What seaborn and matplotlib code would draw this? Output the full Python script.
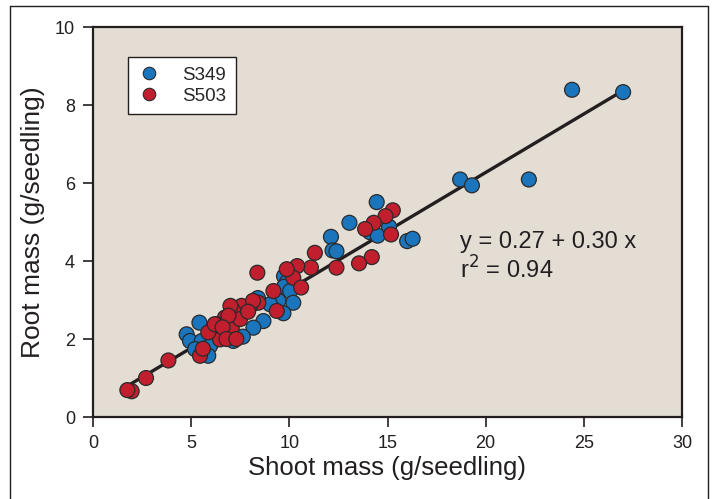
import numpy as np
import pandas as pd
import matplotlib
matplotlib.use("Agg")
import matplotlib.pyplot as plt
import seaborn as sns
from matplotlib.lines import Line2D

# ---- data ----
s349_shoot = [27.0, 24.4, 22.2, 18.7, 19.3, 14.45, 13.06, 14.1, 14.5, 15.08, 16.0, 16.28,
              12.12, 12.2, 12.4, 9.73, 9.87, 9.73, 10.04, 10.2, 9.44, 9.02, 9.7, 8.68,
              8.17, 7.63, 7.15, 6.05, 5.42, 4.77, 4.94, 5.54, 5.2, 5.96, 5.87, 8.4]
s349_root = [8.33, 8.39, 6.09, 6.09, 5.94, 5.51, 4.98, 4.74, 4.65, 4.88, 4.51, 4.57,
             4.62, 4.27, 4.25, 3.61, 3.45, 3.34, 3.23, 2.93, 2.98, 2.89, 2.66, 2.46,
             2.29, 2.06, 1.95, 1.91, 2.42, 2.12, 1.95, 1.95, 1.74, 1.82, 1.57, 3.05]

s503_shoot = [15.27, 14.9, 14.3, 13.86, 15.18, 11.3, 14.2, 13.55, 12.4, 11.1, 10.4, 10.2,
              10.6, 9.87, 8.37, 9.19, 9.36, 8.42, 8.0, 7.57, 7.15, 6.72, 6.3, 7.07,
              7.49, 6.47, 5.87, 6.2, 5.45, 3.84, 2.7, 1.97, 1.75, 8.15, 7.0, 6.9,
              6.6, 7.9, 6.8, 7.3, 5.6]
s503_root = [5.30, 5.15, 4.98, 4.82, 4.68, 4.21, 4.10, 3.94, 3.83, 3.83, 3.87, 3.57,
             3.32, 3.79, 3.70, 3.23, 2.72, 2.93, 2.85, 2.85, 2.72, 2.55, 2.38, 2.29,
             2.51, 1.99, 2.17, 2.38, 1.57, 1.45, 1.00, 0.66, 0.69, 2.98, 2.85, 2.60,
             2.30, 2.70, 2.00, 2.00, 1.75]

genotypes = ["S349", "S503"]
intercept, slope = 0.27, 0.30
fit_range = [1.7, 26.9]
equation = "y = 0.27 + 0.30 x"
r2_text = "r$^2$ = 0.94"

df = pd.DataFrame({
    "shoot": s349_shoot + s503_shoot,
    "root": s349_root + s503_root,
    "genotype": [genotypes[0]] * len(s349_shoot) + [genotypes[1]] * len(s503_shoot),
})

sns.set_style("ticks")
plt.rcParams["font.family"] = ["Liberation Sans", "DejaVu Sans"]

fig = plt.figure(figsize=(7.12, 4.99), dpi=100)
ax = fig.add_axes([93 / 712, 1 - 417 / 499, (682 - 93) / 712, (417 - 27) / 499])
ax.set_facecolor("#E3DDD4")

palette = {"S349": "#1A75BD", "S503": "#C11F2E"}

fit_df = pd.DataFrame({"shoot": fit_range,
                       "root": [intercept + slope * v for v in fit_range]})
sns.lineplot(data=fit_df, x="shoot", y="root", ax=ax, color="#231F20",
             linewidth=2.4, zorder=2)

sns.scatterplot(data=df, x="shoot", y="root", hue="genotype", palette=palette,
                s=115, edgecolor="#2a2a2a", linewidth=0.9, ax=ax, zorder=3,
                legend=False)

ax.set_xlim(0, 30)
ax.set_ylim(0, 10)
ax.set_xticks([0, 5, 10, 15, 20, 25, 30])
ax.set_yticks([0, 2, 4, 6, 8, 10])
ax.tick_params(axis="both", direction="out", length=7, width=1.2,
               labelsize=13, color="#231F20", labelcolor="#231F20", pad=6)
for sp in ax.spines.values():
    sp.set_linewidth(1.6)
    sp.set_color("#231F20")

ax.set_xlabel("Shoot mass (g/seedling)", fontsize=18.5, color="#231F20", labelpad=3)
ax.set_ylabel("Root mass (g/seedling)", fontsize=19, color="#231F20", labelpad=7)

ax.text(18.7, 4.48, equation, fontsize=17, color="#231F20", va="center", ha="left")
ax.text(18.7, 3.76, r2_text, fontsize=17, color="#231F20", va="center", ha="left")

handles = [Line2D([0], [0], marker="o", linestyle="", markersize=9,
                  markerfacecolor=palette[g], markeredgecolor="#2a2a2a",
                  markeredgewidth=0.8, label=g) for g in genotypes]
leg = ax.legend(handles=handles, loc="upper left", bbox_to_anchor=(0.059, 0.923),
                borderaxespad=0, fontsize=13.5, frameon=True, fancybox=False,
                framealpha=1, edgecolor="#231F20", handletextpad=1.1, borderpad=0.5,
                labelspacing=0.22, handlelength=1.3)
leg.get_frame().set_linewidth(1.0)

# outer frame of the figure (left, top, right)
fw, fh = 712, 499
fig.add_artist(Line2D([10 / fw, 10 / fw], [0, 1 - 6 / fh], transform=fig.transFigure,
                      color="#231F20", linewidth=1.0))
fig.add_artist(Line2D([10 / fw, 708 / fw], [1 - 6 / fh, 1 - 6 / fh],
                      transform=fig.transFigure, color="#231F20", linewidth=1.0))
fig.add_artist(Line2D([708 / fw, 708 / fw], [0, 1 - 6 / fh], transform=fig.transFigure,
                      color="#231F20", linewidth=1.0))

fig.savefig("out.png", dpi=100)
